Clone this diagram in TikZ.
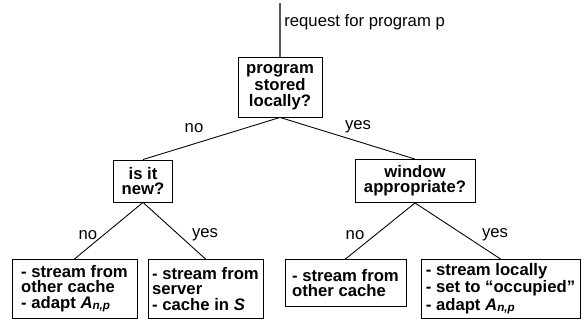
\documentclass[tikz,border=0pt]{standalone}
\usepackage{fontspec}
\setmainfont{Liberation Sans}
\newcommand{\Anp}{\textit{A}\textsubscript{\textit{n,p}}}
\tikzset{
  decision/.style={draw, line width=0.5pt, font=\fontsize{9.5}{8.7}\selectfont\bfseries, align=center, inner sep=0pt},
  leaf/.style={draw, line width=0.5pt, anchor=north, font=\fontsize{9.5}{8.7}\selectfont\bfseries, align=left, inner sep=0pt, minimum height=1.18cm},
  answer/.style={font=\fontsize{9.5}{11}\selectfont, inner sep=0pt},
  branch/.style={line width=0.5pt}
}
\begin{document}
\begin{tikzpicture}
    \useasboundingbox (0,0) rectangle (11.72,6.42);

    \coordinate (top) at (5.6,6.36);
    \node[decision, minimum width=1.68cm, minimum height=1.2cm] (stored) at (5.6,4.68) {program\\stored\\locally?};
    \node[answer, anchor=west] (request) at (5.68,5.98) {request for program p};
    \draw[gray!70!black, line width=0.6pt] (top) -- (stored.north);

    \node[decision, minimum width=1.18cm, minimum height=0.84cm] (isnew) at (2.86,2.80) {is it\\new?};
    \node[decision, minimum width=2.4cm, minimum height=0.86cm] (window) at (8.30,2.80) {window\\appropriate?};
    \draw[branch] (stored.south) -- (isnew.north);
    \draw[branch] (stored.south) -- (window.north);
    \node[answer] (no1) at (3.88,3.86) {no};
    \node[answer] (yes1) at (7.16,3.88) {yes};

    \node[leaf, minimum width=2.5cm] (othercache) at (1.49,1.24) {- stream from\\other cache\\- adapt \Anp};
    \node[leaf, minimum width=2.3cm] (server) at (4.11,1.24) {- stream from\\server\\- cache in \textit{S}};
    \node[leaf, minimum width=2.42cm, minimum height=0.94cm] (otherwin) at (6.91,1.24) {- stream from\\other cache};
    \node[leaf, minimum width=3.18cm] (local) at (10.01,1.24) {- stream locally\\- set to “occupied”\\- adapt \Anp};

    \draw[branch] (isnew.south) -- (othercache.north);
    \draw[branch] (isnew.south) -- (server.north);
    \draw[branch] (window.south) -- (otherwin.north);
    \draw[branch] (window.south) -- (local.north);
    \node[answer] (no2) at (1.76,1.72) {no};
    \node[answer] (yes2) at (4.10,1.72) {yes};
    \node[answer] (no3) at (7.10,1.72) {no};
    \node[answer] (yes3) at (9.90,1.72) {yes};
\end{tikzpicture}
\end{document}
